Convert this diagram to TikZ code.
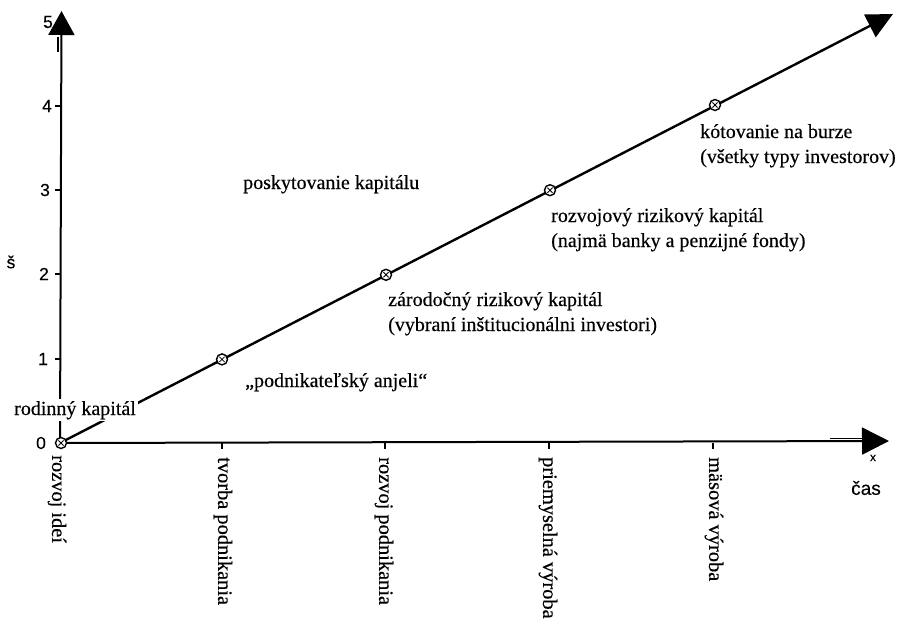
\documentclass[tikz,border=0pt]{standalone}
\usepackage{fontspec}
\setmainfont{Liberation Serif}[FakeBold=0.4]
\newfontfamily\txtfont{Liberation Serif}[FakeBold=0.4]
\newfontfamily\numfont{Liberation Sans}[FakeBold=0.3]
\usetikzlibrary{arrows.meta}
\begin{document}
\begin{tikzpicture}[x=1pt,y=-1pt,
  axis/.style={line width=2pt},
  tick/.style={line width=1.2pt},
  lbl/.style={font=\txtfont\fontsize{20}{25}\selectfont, inner sep=0pt, anchor=base west},
  vlbl/.style={font=\txtfont\fontsize{20.4}{25}\selectfont, inner sep=0pt, rotate=-90, anchor=west},
  num/.style={font=\numfont\fontsize{17.5}{19}\selectfont, inner sep=0pt},
  mk/.style={circle, draw, line width=1.4pt, minimum size=11pt, inner sep=0pt, fill=white,
    path picture={\draw[line width=0.8pt] (path picture bounding box.center) ++(-2.6pt,-2.6pt) -- ++(5.2pt,5.2pt)
      (path picture bounding box.center) ++(-2.6pt,2.6pt) -- ++(5.2pt,-5.2pt);}},
]
\useasboundingbox (0,0) rectangle (900,626);
\fill[white] (0,0) rectangle (900,626);

% key points
\coordinate (O) at (60,443);
\coordinate (Ytop) at (61.5,11);
\coordinate (Xend) at (889,441);
\coordinate (Dend) at (893,14);

% axes
\draw[axis, -{Triangle[length=24pt,width=26pt]}] (O) -- (Ytop);
\draw[axis, -{Triangle[length=27pt,width=27pt]}] (O) -- (Xend);
\draw[line width=1.3pt] (58,37) -- (58,52);
\draw[line width=1.3pt] (830,438.5) -- (864,438.5);

% y ticks
\foreach \yy in {359,274,190,106} \draw[tick] (55,\yy) -- (61,\yy);
% x ticks
\foreach \xx in {222,385,549,713} \draw[tick] (\xx,443) -- (\xx,449);

% diagonal
\draw[line width=2.4pt, -{Triangle[length=26pt,width=25pt]}] (O) -- (Dend);

% markers
\node[mk] (M0) at (61,443) {};
\node[mk] (M1) at (222,359.4) {};
\node[mk] (M2) at (386,274.8) {};
\node[mk] (M3) at (550,190.2) {};
\node[mk] (M4) at (715,105) {};

% y labels
\node[num] (n0) at (41,443) {0};
\node[num] (n1) at (43,359) {1};
\node[num] (n2) at (44,274) {2};
\node[num] (n3) at (45,190) {3};
\node[num] (n4) at (47,106) {4};
\node[num] (n5) at (48,22) {5};
\node[num] (sy) at (11,262) {š};
\node[font=\numfont\fontsize{12}{13}\selectfont, inner sep=0pt] (xm) at (873,458) {x};
\node[font=\numfont\fontsize{19}{20}\selectfont, inner sep=0pt] (cas) at (866,488) {čas};

% vertical labels
\node[vlbl] (v0) at (57,455) {rozvoj ideí};
\node[vlbl] (v1) at (223,457) {tvorba podnikania};
\node[vlbl] (v2) at (384,457) {rozvoj podnikania};
\node[vlbl] (v3) at (548,457) {priemyselná výroba};
\node[vlbl] (v4) at (714,457) {mäsová výroba};

% text labels
\node[lbl, fill=white, inner xsep=2pt, inner ysep=2pt] (rk) at (12,415) {rodinný kapitál};
\node[lbl] (pa) at (245,387) {„podnikateľský anjeli“};
\node[lbl] (pk) at (243,189) {poskytovanie kapitálu};
\node[lbl] (z1) at (388,306) {zárodočný rizikový kapitál};
\node[lbl] (z2) at (388,331) {(vybraní inštitucionálni investori)};
\node[lbl] (r1) at (551,222) {rozvojový rizikový kapitál};
\node[lbl] (r2) at (551,247) {(najmä banky a penzijné fondy)};
\node[lbl] (k1) at (700,138) {kótovanie na burze};
\node[lbl] (k2) at (700,163) {(všetky typy investorov)};
\end{tikzpicture}
\end{document}
